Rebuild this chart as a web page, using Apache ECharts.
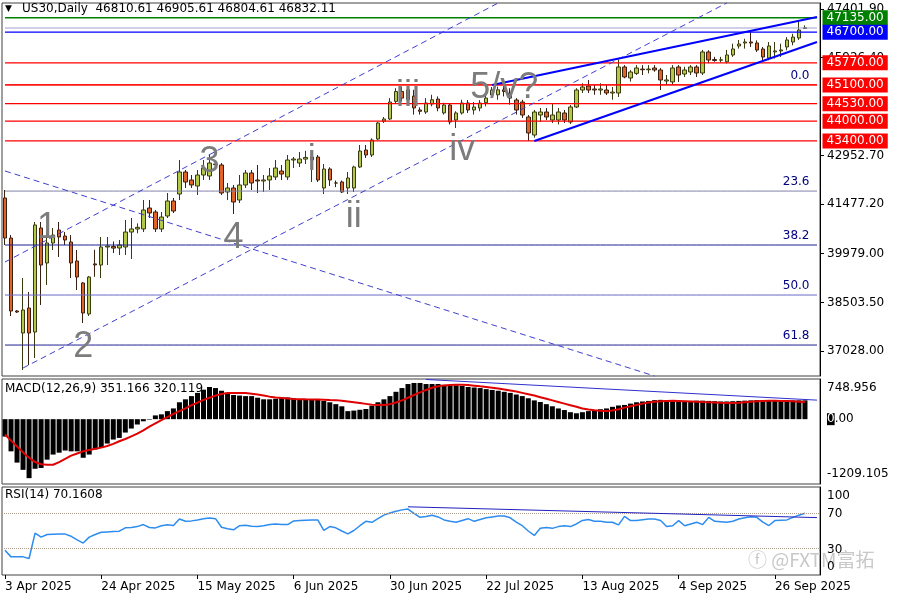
<!DOCTYPE html>
<html><head><meta charset="utf-8">
<script src="https://cdn.jsdelivr.net/npm/echarts@6/dist/echarts.min.js"></script>
<style>html,body{margin:0;padding:0;background:#fff}#c{width:900px;height:600px}</style>
</head><body><div id="c"></div>
<script>
// ---- DATA ----
const tickIdx = [0,16,32,48,64,80,96,112,128];
const tickLabels = ['3 Apr 2025','24 Apr 2025','15 May 2025','6 Jun 2025','30 Jun 2025','22 Jul 2025','13 Aug 2025','4 Sep 2025','26 Sep 2025'];
const priceTicks = [47401.90,45926.40,42952.70,41477.20,39979.00,38503.50,37028.00];
// [open, close, low, high]
const ohlc = [
[41670,40456,40244,41912],[40456,38242,38091,40547],[38242,38212,38182,38272],[37575,38272,36453,39243],
[38333,37575,36604,38818],[37605,40851,36817,40942],[40760,39637,38424,40942],[39698,40305,39031,40608],
[40305,40547,40092,40760],[40699,40487,39880,40942],[40517,40396,40244,40638],[40335,39698,39243,40547],
[39759,39274,38879,40092],[39092,38182,37878,39122],[38152,39274,38091,39304],[39670,39640,39280,40100],
[39637,40184,39243,40487],[40184,40214,39637,40487],[40200,40150,40000,40350],[40153,40244,39941,40396],
[40184,40638,39941,41002],[40638,40730,39820,41063],[40730,40780,40600,40900],[40730,41306,40638,41609],
[41366,41215,41063,41609],[41245,40730,40638,41306],[40730,41093,40638,41245],[41124,41579,41063,41821],
[41579,41275,41215,41670],[41791,42458,41609,42822],[42458,42155,41973,42519],[42216,42064,41973,42367],
[42034,42367,41761,42519],[42367,42580,42216,42822],[42337,42731,42216,42974],[42700,42680,42550,42800],
[42671,41821,41761,42731],[41852,41973,41609,42125],[41973,41548,41185,42064],[41609,42064,41518,42367],
[42064,42428,41973,42519],[42428,42125,41912,42519],[42216,42186,41821,42671],[42186,42216,41852,42367],
[42216,42337,41912,42580],[42307,42580,42216,42822],[42488,42397,42216,42671],[42307,42822,42216,42974],
[42822,42852,42580,42913],[42731,42852,42610,43065],[42850,42900,42700,43100],[42822,42913,42155,42974],
[42913,42216,42155,42974],[41973,42549,41790,42700],[42549,42216,42034,42600],[42125,42125,42000,42200],
[42155,41852,41821,42200],[41973,42276,41791,42458],[41973,42610,41852,42650],[42610,43095,42580,43277],
[43125,42974,42883,43277],[42974,43429,42914,43480],[43459,43944,43429,43975],[44000,44066,43944,44126],
[44066,44581,44035,44700],[44600,44900,44550,45000],[44900,44700,44600,45050],[44650,44950,44550,45050],
[44760,44400,44200,44950],[44339,44300,44200,44420],[44278,44551,44220,44700],[44520,44650,44450,44800],
[44670,44400,44300,44750],[44250,44490,44200,44560],[44490,43975,43900,44550],[44035,44248,43793,44300],
[44248,44551,44200,44650],[44551,44339,44250,44640],[44339,44430,44200,44580],[44399,44551,44300,44640],
[44560,44700,44450,44850],[44794,44945,44700,45036],[44800,44950,44650,45050],[44950,44900,44750,45100],
[44854,44700,44500,45000],[44642,44339,44200,44700],[44580,44187,44100,44650],[44126,43641,43398,44187],
[43580,44278,43500,44340],[44187,44278,43975,44399],[44278,44126,44035,44400],[44035,44187,43944,44551],
[44035,44278,43900,44400],[44248,44035,43944,44339],[43975,44430,43914,44490],[44430,44945,44400,45000],
[44945,45036,44854,45150],[45067,44945,44854,45250],[44975,44945,44800,45100],[44945,44975,44800,45150],
[44945,44854,44794,45100],[44854,44880,44650,45036],[44854,45643,44733,45855],[45643,45340,45300,45700],
[45309,45491,45200,45550],[45450,45613,45400,45700],[45580,45560,45400,45700],[45560,45580,45450,45700],
[45613,45552,45500,45700],[45552,45249,44945,45613],[45218,45249,45097,45400],[45190,45613,45100,45700],
[45643,45400,45190,45700],[45430,45552,45340,45650],[45491,45643,45400,45700],[45643,45461,45340,45700],
[45461,46098,45400,46160],[46098,45855,45760,46150],[45870,45840,45800,45950],[45850,45860,45780,45950],
[45800,46007,45750,46160],[46007,46189,45950,46350],[46280,46340,46200,46462],[46371,46401,46200,46500],
[46401,46371,46250,46700],[46371,46158,46100,46450],[46188,45946,45800,46250],[45916,46280,45850,46400],
[46100,46130,45900,46400],[46130,46160,45950,46350],[46250,46462,46150,46550],[46401,46550,46300,46650],
[46522,46765,46462,47068],[46810,46832,46805,46906]
];
const macdHist = [-325,-600,-810,-945,-1100,-925,-910,-755,-660,-625,-585,-600,-600,-720,-660,-565,-530,-455,-380,-350,
-250,-175,-100,-40,-10,70,90,150,200,315,370,430,490,550,600,580,530,490,450,440,
430,430,400,370,370,380,405,405,390,370,370,370,370,340,315,280,240,150,160,175,
190,250,315,370,430,510,580,655,675,675,655,655,655,640,625,630,620,600,590,580,
560,545,530,510,490,460,430,390,350,320,280,240,200,170,130,110,130,150,170,185,
200,230,255,265,290,315,330,340,355,360,355,350,345,340,340,345,345,340,335,330,
330,335,340,345,350,355,350,345,340,345,350,350,351,351.166];
const macdSignal = [-286,-400,-510,-620,-720,-800,-840,-851,-850,-800,-740,-680,-640,-600,-575,-550,-531,-500,-460,-412,
-370,-320,-270,-210,-140,-80,-20,40,100,150,200,260,310,360,400,440,470,486,490,490,
486,475,460,440,420,405,395,385,378,373,370,368,365,362,358,355,345,330,315,300,
285,270,262,265,280,310,350,400,450,500,545,585,615,630,637,640,640,635,625,612,
600,585,570,555,535,515,490,465,440,410,380,350,320,290,260,230,200,180,165,155,
150,160,185,215,240,265,290,310,325,335,340,342,340,335,330,325,318,316,312,305,
300,300,305,315,325,335,340,342,342,341,338,333,327,320.119];
const rsi = [28,20.6,20.6,20.6,18.7,47.6,43,46,46.3,46.6,46.5,44,40,36.3,43,46,48.5,49,49.5,49.8,
53.6,54,55,57.3,54,53.5,56,57,56.2,63.7,61,61.5,62.5,64,64.7,64,54.3,52.5,51.3,56,
56.5,55.5,55,56,57.3,58,57.5,57.3,61.5,62,62.2,62.4,62.6,50.6,55,53.6,50,46.8,50.6,56,
61,59.9,64,68,70.5,72.5,74,74.9,70,65.5,66.5,68,66,62.6,61,59.9,62,64,61,63,
65,66,67,67,65,60,56,50,45,53,54,53,55,56,55,58,62,63,61,61,
60,60,57,66.6,61.8,61.8,62.8,63.7,63.7,62,55,56,61.8,56,58,59.9,57.3,65.5,61,60.5,
60,61,63.7,65,66.3,65.5,60,56.2,61.8,62.2,62.6,65.5,68,70.1608];
const levels = [
  {v:47135, c:'#008000', label:true},
  {v:46826, c:'#a0a0d0', label:false},
  {v:46700, c:'#0000ff', label:true},
  {v:45770, c:'#ff0000', label:true},
  {v:45100, c:'#ff0000', label:true},
  {v:44530, c:'#ff0000', label:true},
  {v:44000, c:'#ff0000', label:true},
  {v:43400, c:'#ff0000', label:true}
];
const fibLevels = [[45100,'0.0','#ff0000'],[41880,'23.6','#8080a8'],[40244,'38.2','#202090'],[38727,'50.0','#6868c8'],[37210,'61.8','#202090']];
// trend / channel lines: [idx1, price1, idx2, price2, color, type, width]
const trendLines = [
  [0,39729,81.6,47584,'#4040d0','dashed',1],
  [3,36514,119.7,47584,'#4040d0','dashed',1],
  [0,42489,108.1,36271,'#4040d0','dashed',1],
  [87.6,43398,135,46401,'#0000ff','solid',2],
  [81.3,45097,135,47160,'#0000ff','solid',2]
];
const waveLabels = [['1',6.8,40760],['2',12.9,37150],['3',33.7,42762],['4',37.5,40456],['i',50.6,42822],
  ['ii',57.7,41093],['iii',66.5,44763],['iv',75.5,43125],['5/v?',83.3,45006]];

// ---- CHART ----
const N = 136;
const cats = Array.from({length:N},(_,i)=>{const k=tickIdx.indexOf(i);return k>=0?tickLabels[k]:'';});
const F = 'DejaVu Sans';
const chart = echarts.init(document.getElementById('c'));
const grids = [
  {left:2,right:80,top:3,height:373},
  {left:2,right:80,top:379,height:105},
  {left:2,right:80,top:487,height:88}
].map(g=>Object.assign(g,{show:true,borderColor:'#404040',borderWidth:1,backgroundColor:'#fff'}));
const xAxes = [0,1,2].map(i=>({
  type:'category',gridIndex:i,data:cats,boundaryGap:true,
  axisLine:{show:false},axisTick:{show:i===2,interval:(idx)=>tickIdx.includes(idx),length:4,lineStyle:{color:'#000'},alignWithLabel:true},
  axisLabel:{show:i===2,interval:(idx)=>tickIdx.includes(idx),align:'left',fontFamily:F,fontSize:12,color:'#000',margin:6},
  splitLine:{show:false}
}));
const yCommon = {position:'right',axisLine:{show:true,lineStyle:{color:'#000'}},axisTick:{show:true,length:4,lineStyle:{color:'#000'}},splitLine:{show:false},scale:true};
const macdLab = {579:'748.956',0:'0.00','-1021':'-1209.105'};
const rsiLab = {90:'100',70:'70',29:'30',9:'0'};
const yAxes = [
  Object.assign({},yCommon,{gridIndex:0,min:36271,max:47584,
    axisLabel:{customValues:priceTicks,formatter:v=>v.toFixed(2),fontFamily:F,fontSize:12,color:'#000',margin:7},
    axisTick:{show:true,length:4,customValues:priceTicks,lineStyle:{color:'#000'}}}),
  Object.assign({},yCommon,{gridIndex:1,min:-1209.105,max:748.956,
    axisLabel:{customValues:[579,0,-1021],formatter:v=>{const s=macdLab[Math.round(v)];return s==='0.00'?'{b|0}.00':s;},
      rich:{b:{backgroundColor:'#000',color:'#fff',fontFamily:F,fontSize:12}},fontFamily:F,fontSize:12,color:'#000',margin:7},
    axisTick:{show:false}}),
  Object.assign({},yCommon,{gridIndex:2,min:0,max:100,
    axisLabel:{customValues:[90,70,29,9],formatter:v=>rsiLab[Math.round(v)],fontFamily:F,fontSize:12,color:'#000',margin:7},
    axisTick:{show:false}})
];
// horizontal levels drawn as flat line series (one per level)
const lastIdx = N - 1;
const levelSeries = [];
fibLevels.forEach(f=>levelSeries.push({type:'line',xAxisIndex:0,yAxisIndex:0,silent:true,showSymbol:false,
  data:cats.map(()=>f[0]),lineStyle:{color:f[2],width:1},itemStyle:{color:f[2]},
  markPoint:{silent:true,symbol:'circle',symbolSize:1,itemStyle:{color:'rgba(0,0,0,0)'},
    data:[{coord:[lastIdx,f[0]],label:{show:true,formatter:f[1],position:'insideRight',offset:[-3,-9],color:'#000080',fontFamily:F,fontSize:12,align:'right'}}]}}));
levels.forEach(l=>levelSeries.push({type:'line',xAxisIndex:0,yAxisIndex:0,silent:true,showSymbol:false,
  data:cats.map(()=>l.v),lineStyle:{color:l.c,width:l.v===47135?1.5:1.2},itemStyle:{color:l.c},
  markPoint:l.label?{silent:true,symbol:'circle',symbolSize:1,itemStyle:{color:'rgba(0,0,0,0)'},
    data:[{coord:[lastIdx,l.v],label:{show:true,position:'right',distance:5,formatter:l.v.toFixed(2),backgroundColor:l.c,color:'#fff',fontFamily:F,fontSize:12,padding:[2,4,1,4]}}]}:undefined}));
const tLines = trendLines.map(t=>[{coord:[t[0],t[1]],lineStyle:{color:t[4],type:t[5]==='dashed'?[6,4]:'solid',width:t[6],opacity:1}},{coord:[t[2],t[3]]}]);
const option = {
  animation:false,
  grid:grids,xAxis:xAxes,yAxis:yAxes,
  graphic:[
    {type:'text',left:5,top:4,style:{text:'▼',font:'9px "DejaVu Sans"',fill:'#000'}},
    {type:'text',left:22,top:3,style:{text:'US30,Daily  46810.61 46905.61 46804.61 46832.11',font:'12px "DejaVu Sans"',fill:'#000'}},
    {type:'text',left:5,top:383,style:{text:'MACD(12,26,9) 351.166 320.119',font:'12px "DejaVu Sans"',fill:'#000'}},
    {type:'text',left:5,top:489,style:{text:'RSI(14) 70.1608',font:'12px "DejaVu Sans"',fill:'#000'}},
    {type:'text',left:748,top:550,style:{text:'ⓕ @FXTM富拓',font:'19px "Noto Sans CJK SC"',fill:'#c8c8c8'}}
  ],
  series:[
    ...levelSeries,
    {type:'candlestick',xAxisIndex:0,yAxisIndex:0,data:ohlc,barWidth:4,
      itemStyle:{color:'#b4c848',color0:'#e06428',borderColor:'#3a3a10',borderColor0:'#3a2010',borderWidth:1},
      markLine:{silent:true,symbol:['none','none'],animation:false,data:tLines},
      markPoint:{silent:true,animation:false,symbol:'circle',symbolSize:1,itemStyle:{color:'rgba(0,0,0,0)'},
        data:waveLabels.map(w=>({coord:[w[1],w[2]],label:{show:true,position:'inside',formatter:w[0],fontSize:36,fontFamily:'Liberation Sans',color:'#7c7c7c'}}))}
    },
    {type:'bar',xAxisIndex:1,yAxisIndex:1,data:macdHist,barWidth:5,itemStyle:{color:'#000'},
      markLine:{silent:true,symbol:['none','none'],data:[[{coord:[69.5,740],lineStyle:{color:'#3030d0',width:1,type:'solid'}},{coord:[135,355]}]],label:{show:false}}},
    {type:'line',xAxisIndex:1,yAxisIndex:1,data:macdSignal,showSymbol:false,lineStyle:{color:'#e00000',width:2},smooth:false},
    {type:'line',xAxisIndex:2,yAxisIndex:2,data:rsi,showSymbol:false,lineStyle:{color:'#2d8cf0',width:1.5},
      markLine:{silent:true,symbol:['none','none'],label:{show:false},data:[
        {yAxis:70,lineStyle:{color:'#b0a090',type:'dotted',width:1}},
        {yAxis:30,lineStyle:{color:'#b0a090',type:'dotted',width:1}},
        [{coord:[66.7,77.5],lineStyle:{color:'#2020c0',width:1,type:'solid'}},{coord:[135,65.2]}]
      ]}}
  ]
};
chart.setOption(option);
</script></body></html>
